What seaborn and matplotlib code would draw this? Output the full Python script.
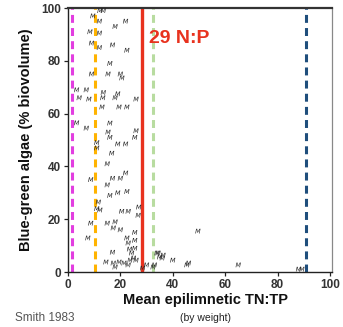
import matplotlib
matplotlib.use("Agg")
import matplotlib.pyplot as plt
import seaborn as sns
import pandas as pd

sns.set_style("ticks")
plt.rcParams['font.family'] = ['Liberation Sans', 'DejaVu Sans']

# TN:TP ratio (x) and blue-green algae % biovolume (y)
tn_tp = [12.2, 13.5, 9.5, 12, 18, 22, 8.4, 12, 9, 12, 17, 22.5, 16, 9, 15.3, 20, 20.6,
         3.3, 7, 13.5, 4.3, 8, 13.3, 18, 19, 26, 13, 19.5, 22.5, 3.3, 7, 16, 15.3, 16,
         26, 25.5, 11, 11, 19, 22, 16.7,
         15, 8.7, 15, 17, 20, 22, 16, 19, 22.5, 11.6, 11, 12.2, 20.5, 23, 27, 26.8,
         8.7, 15, 18, 17.3, 20, 25.5, 7.6, 22.5, 23, 25.5, 17, 23.5, 25.5, 24.3,
         14.5, 17.3, 19.5, 21.4, 23.7, 25, 26, 23, 18, 30, 32.5, 34, 35, 36.3, 40,
         49.6, 34.4, 36, 45.4, 46, 65, 88, 89.3, 33, 28.5]
biovol = [99, 99, 97, 95, 93, 95, 91, 90.5, 86.7, 85, 86, 84, 79, 75, 75, 75, 73.5,
          69, 69, 68, 66, 65.5, 66, 66, 67.5, 65.5, 62.5, 62.5, 62.5, 56.5, 54.5, 56.4, 53, 51,
          53.5, 51, 49, 47, 48.5, 48.5, 45,
          41, 35, 33, 35.5, 35.5, 37.5, 29, 30, 30.5, 26.5, 24, 23.5, 23, 23, 24.6, 21.5,
          18.5, 18.5, 19, 16.7, 16, 15, 12.9, 12.9, 11, 12, 7.5, 8.7, 9, 7.2,
          3.8, 3.4, 3.8, 3.4, 4.5, 5.3, 4.5, 2.7, 1.9, 2.7, 1.9, 7.2, 5.7, 6.4, 4.5,
          15.5, 7.2, 5.3, 2.7, 3.4, 2.7, 1.1, 1.1, 2.7, 1.5]

ref_ratios = [1.5, 10.5, 28.3, 32.6, 90.7]
ref_colors = ["#e23ee0", "#ffb300", "#e8321e", "#b8dca0", "#1f4e7c"]
ref_styles = ["dash", "dash", "solid", "dash", "dash"]

xticks = [0, 20, 40, 60, 80, 100]
yticks = [0, 20, 40, 60, 80, 100]

df = pd.DataFrame({"ratio": tn_tp, "bg": biovol})

fig = plt.figure(figsize=(3.43, 3.27), dpi=100)
ax = fig.add_axes([0.198, 0.168, 0.770, 0.8075])

for xv, c, st in zip(ref_ratios, ref_colors, ref_styles):
    if st == "solid":
        ax.axvline(xv, color=c, lw=2.4, zorder=1)
    else:
        ax.axvline(xv, color=c, lw=2.2, dashes=(2.6, 1.7), zorder=1)

sns.scatterplot(data=df, x="ratio", y="bg", ax=ax, marker="$M$", s=14,
                color="#222222", edgecolor="none", linewidth=0.2, zorder=3)

ax.set_xlim(0, 100.8)
ax.set_ylim(0, 100)
ax.set_xticks(xticks)
ax.set_yticks(yticks)
ax.tick_params(axis="both", labelsize=8.5, length=3, width=0.9, colors="#222222",
               pad=2)
for lab in ax.get_xticklabels() + ax.get_yticklabels():
    lab.set_fontweight("bold")
    lab.set_color("#333333")

for side in ["left", "bottom"]:
    ax.spines[side].set_color("#222222")
    ax.spines[side].set_linewidth(1.0)
ax.spines["top"].set_color("#333333")
ax.spines["top"].set_linewidth(1.6)
ax.spines["right"].set_color("#888888")
ax.spines["right"].set_linewidth(0.9)

ax.set_xlabel("")
ax.set_ylabel("Blue-green algae (% biovolume)", fontsize=10.5, fontweight="bold",
              color="#111111", labelpad=6)

ax.text(31, 88.5, "29 N:P", color="#e8321e", fontsize=14, fontweight="bold",
        va="center", ha="left")

fig.text(0.598, 0.083, "Mean epilimnetic TN:TP", fontsize=10.5, fontweight="bold",
         ha="center", va="center", color="#111111")
fig.text(0.598, 0.028, "(by weight)", fontsize=7.5, ha="center", va="center",
         color="#222222")
fig.text(0.044, 0.028, "Smith 1983", fontsize=8.5, ha="left", va="center",
         color="#555555")

fig.savefig("out.png", dpi=100)
